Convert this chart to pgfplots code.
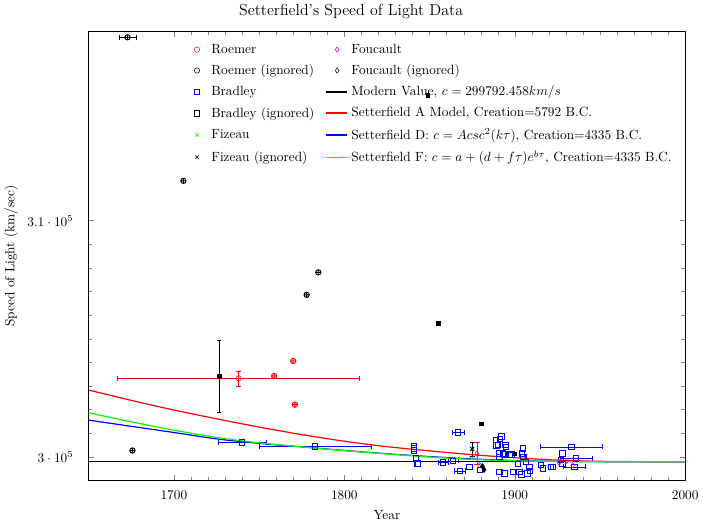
\documentclass[border=0pt]{standalone}
\usepackage{pgfplots}
\pgfplotsset{compat=1.18}
\pgfplotsset{mleg/.style={legend image code/.code={\path (0cm,0cm) (0.6cm,0cm); \draw[only marks] plot coordinates {(0.3cm,0cm)};}},
  lleg/.style={legend image code/.code={\draw[#1] (0cm,0cm) -- (0.55cm,0cm);}}}
\begin{document}
\begin{tikzpicture}
\begin{axis}[
  scale only axis, width=448pt, height=337pt,
  xmin=1650, xmax=2000, ymin=299000, ymax=318000,
  xtick={1700,1800,1900,2000}, minor x tick num=9,
  ytick={300000,310000}, minor y tick num=9,
  scaled y ticks=false,
  yticklabel style={/pgf/number format/sci, xshift=-8pt},
  xticklabel style={/pgf/number format/1000 sep={}, yshift=-4pt},
  title={\large Setterfield’s Speed of Light Data},
  title style={at={(0.44,1)}},
  xlabel={Year}, ylabel={Speed of Light (km/sec)},
  xlabel style={yshift=-2pt},
  ylabel style={at={(axis description cs:-0.13,0.5)}, anchor=center},
  legend columns=6, transpose legend,
  legend cell align=left,
  legend style={at={(0.155,0.985)}, anchor=north west, draw=none, fill=none, row sep=3pt,
    /tikz/every even column/.append style={column sep=6pt}},
]
% ---- legend entries ----
\addlegendimage{mark=o, red, mleg}
\addlegendentry{Roemer}
\addlegendimage{mark=o, black, mleg}
\addlegendentry{Roemer (ignored)}
\addlegendimage{mark=square, blue, mleg}
\addlegendentry{Bradley}
\addlegendimage{mark=square, black, mleg}
\addlegendentry{Bradley (ignored)}
\addlegendimage{mark=x, green, mleg}
\addlegendentry{Fizeau}
\addlegendimage{mark=x, black, mleg}
\addlegendentry{Fizeau (ignored)}
\addlegendimage{mark=diamond, magenta, mleg}
\addlegendentry{Foucault}
\addlegendimage{mark=diamond, black, mleg}
\addlegendentry{Foucault (ignored)}
\addlegendimage{lleg={draw=black, line width=1.1pt}}
\addlegendentry{Modern Value, $c=299792.458km/s$}
\addlegendimage{lleg={draw=red, line width=1.1pt}}
\addlegendentry{Setterfield A Model, Creation=5792 B.C.}
\addlegendimage{lleg={draw=blue, line width=1.1pt}}
\addlegendentry{Setterfield D: $c=Acsc^2(k\tau)$, Creation=4335 B.C.}
\addlegendimage{lleg={draw=green, line width=1.1pt}}
\addlegendentry{Setterfield F: $c=a+(d+f\tau)e^{b\tau}$, Creation=4335 B.C.}

% ---- data ----
% Roemer with error bars
\addplot[forget plot, only marks, mark=o, red,
  error bars/.cd, x dir=both, x explicit, y dir=both, y explicit, error bar style={red}]
  table[x error=ex, y error=ey] {
x y ex ey
1738 303323 71 318
};
\addplot[forget plot, only marks, mark=oplus, red, mark options={line width=0.7pt}] table {
x y
1758.8 303421
1770 304057
1771 302207
};
% Roemer ignored
\addplot[forget plot, only marks, mark=oplus, black, mark options={line width=0.7pt},
  error bars/.cd, x dir=both, x explicit, error bar style={black, thin}]
  table[x error=ex] {
x y ex
1672.8 317760 5
};
\addplot[forget plot, only marks, mark=oplus, black, mark options={line width=0.7pt}] table {
x y
1675.7 300267
1705.6 311684
1777.9 306858
1784.7 307809
};
% Bradley ignored
\addplot[forget plot, only marks, mark=square*, mark size=1.5pt, black,
  error bars/.cd, y dir=both, y explicit, error bar style={black}]
  table[y error=ey] {
x y ey
1726.7 303395 1528
};
% Bradley with x error bars
\addplot[forget plot, only marks, mark=square, blue, thick,
  error bars/.cd, x dir=both, x explicit, error bar style={blue, thin}]
  table[x error=ex] {
x y ex
1740 300607 14
1782.8 300437 33
1866.7 301031 3.4
1867.7 299406 3.4
1863.7 299830 3
1858 299760 3
1933.2 300424 18
1935.9 299928 9.5
1935 299576 6.5
};
% Bradley plain
\addplot[forget plot, only marks, mark=square, blue, thick] table {
x y
1840.8 300437
1840.8 300352
1840.8 300267
1842 299928
1843 299716
1873.5 299576
1879.7 299431
1889 300700
1889.3 300480
1891.4 300747
1892.2 300862
1890.1 300492
1894.6 300492
1895 300424
1893 300140
1891.1 300140
1891.1 300000
1894 300100
1897 300068
1898 300100
1891.1 299363
1894 299291
1898.8 299363
1902.8 299363
1904.7 300352
1904.3 300140
1905 300000
1906.7 299788
1908.6 299576
1907.5 299291
1909 299400
1904 299250
1902 299700
1915.4 299645
1916.4 299505
1921.3 299576
1922.3 299576
1927 299860
1928 300140
1928 299687
};
% Fizeau
\addplot[forget plot, only marks, mark=x, green] table {
x y
1874.5 299928
};
% Fizeau ignored
\addplot[forget plot, only marks, mark=square*, mark size=1.3pt, black] table {
x y
1849 315300
1855 305645
1880.3 301400
1899.9 300140
};
\addplot[forget plot, only marks, mark=x, black, thick,
  error bars/.cd, y dir=both, y explicit, error bar style={black, thin}]
  table[y error=ey] {
x y ey
1875 300330 300
};
% Foucault
\addplot[forget plot, only marks, mark=diamond, magenta,
  error bars/.cd, y dir=both, y explicit, error bar style={magenta}]
  table[y error=ey] {
x y ey
1877.8 300140 470
};
\addplot[forget plot, only marks, mark=diamond, magenta] table {
x y
1879.4 299645
1926 299750
1930.5 299830
1934 299645
};
% Foucault ignored
\addplot[forget plot, only marks, mark=diamond*, black] table {
x y
1881 299600
1882 299450
};
% Modern value
\addplot[forget plot, black, line width=0.9pt] coordinates {(1650,299792.458) (2000,299792.458)};
% Setterfield A
\addplot[forget plot, red, line width=0.9pt, smooth] table {
x y
1650 302826
1675 302390
1700 301980
1725 301610
1750 301260
1775 300940
1800 300660
1825 300430
1850 300250
1875 300090
1900 299960
1925 299860
1950 299810
1975 299795
2000 299792
};
% Setterfield D
\addplot[forget plot, blue, line width=0.9pt, smooth] table {
x y
1650 301553
1675 301290
1700 301030
1725 300760
1750 300570
1775 300420
1800 300270
1825 300130
1850 300010
1875 299910
1900 299840
1925 299805
1950 299795
2000 299792
};
% Setterfield F
\addplot[forget plot, green, line width=0.9pt, smooth] table {
x y
1650 301867
1675 301480
1700 301130
1725 300820
1750 300590
1775 300420
1800 300260
1825 300120
1850 299990
1875 299890
1900 299830
1925 299800
1950 299793
2000 299792
};
\end{axis}
\end{tikzpicture}
\end{document}
